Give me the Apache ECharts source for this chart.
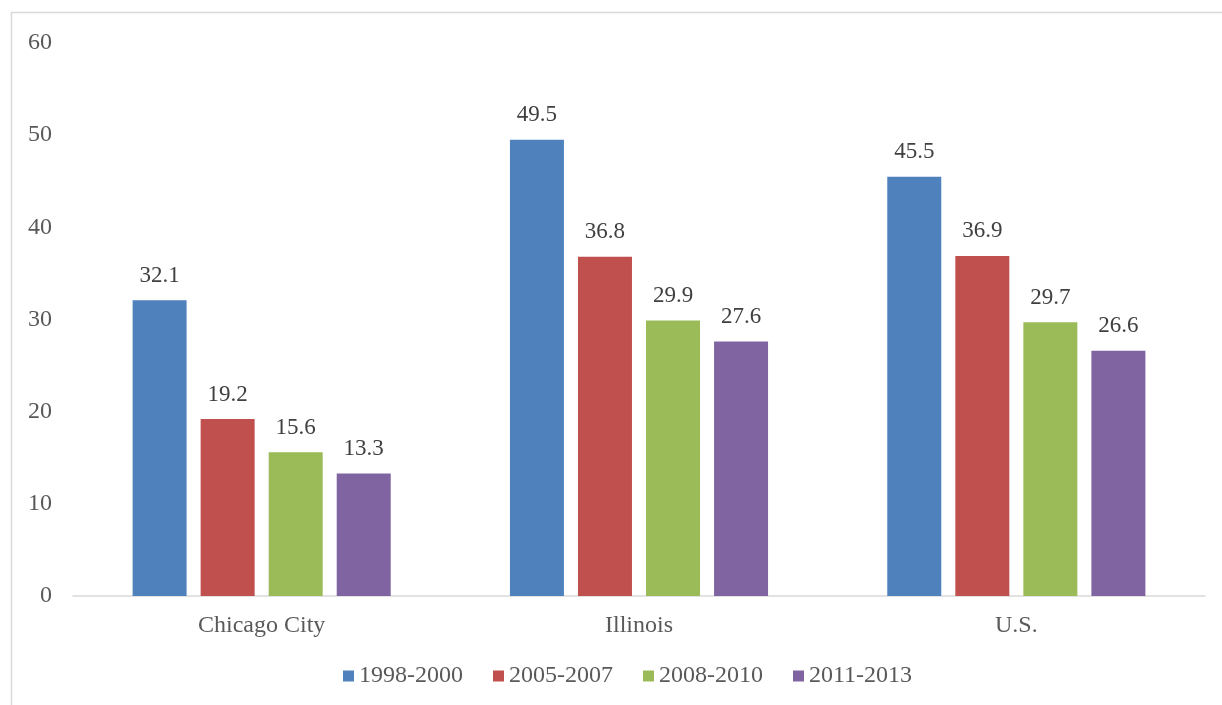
<!DOCTYPE html>
<html>
<head>
<meta charset="UTF-8">
<title>Chart</title>
<script src="https://cdn.jsdelivr.net/npm/echarts@6/dist/echarts.min.js"></script>
<style>
  html, body { margin: 0; padding: 0; background: #fff; }
  #chart { width: 1222px; height: 705px; }
</style>
</head>
<body>
<div id="chart"></div>
<script>
var categories = ['Chicago City', 'Illinois', 'U.S.'];
var seriesNames = ['1998-2000', '2005-2007', '2008-2010', '2011-2013'];
var s1998 = [32.1, 49.5, 45.5];
var s2005 = [19.2, 36.8, 36.9];
var s2008 = [15.6, 29.9, 29.7];
var s2011 = [13.3, 27.6, 26.6];
var colors = ['#4f81bd', '#c0504d', '#9bbb59', '#8064a2'];

var font = '"Liberation Serif", "Times New Roman", serif';
var textColor = '#595959';

function bar(name, data, color) {
  return {
    name: name,
    type: 'bar',
    data: data,
    barWidth: 54,
    barGap: '26%',
    itemStyle: { color: color },
    label: {
      show: true,
      position: 'top',
      distance: 13,
      fontFamily: font,
      fontSize: 23,
      color: '#404040'
    }
  };
}

var chart = echarts.init(document.getElementById('chart'));
chart.setOption({
  animation: false,
  textStyle: { fontFamily: font },
  graphic: [{
    type: 'rect',
    shape: { x: 11.5, y: 12.5, width: 1300, height: 800 },
    style: { fill: 'none', stroke: '#d9d9d9', lineWidth: 1.5 },
    silent: true
  }],
  grid: { left: 73, right: 17, top: 43, bottom: 109 },
  legend: {
    data: seriesNames,
    bottom: 12,
    left: 338,
    icon: 'rect',
    itemWidth: 11,
    itemHeight: 11,
    itemGap: 30,
    textStyle: { fontFamily: font, fontSize: 24, color: textColor }
  },
  xAxis: {
    type: 'category',
    data: categories,
    axisLine: { lineStyle: { color: '#d9d9d9', width: 1.5 } },
    axisTick: { show: false },
    axisLabel: { fontFamily: font, fontSize: 24, color: textColor, margin: 18 }
  },
  yAxis: {
    type: 'value',
    min: 0,
    max: 60,
    interval: 10,
    splitLine: { show: false },
    axisLine: { show: false },
    axisTick: { show: false },
    axisLabel: { fontFamily: font, fontSize: 24, color: textColor, margin: 21 }
  },
  series: [
    bar(seriesNames[0], s1998, colors[0]),
    bar(seriesNames[1], s2005, colors[1]),
    bar(seriesNames[2], s2008, colors[2]),
    bar(seriesNames[3], s2011, colors[3])
  ]
});
</script>
</body>
</html>
